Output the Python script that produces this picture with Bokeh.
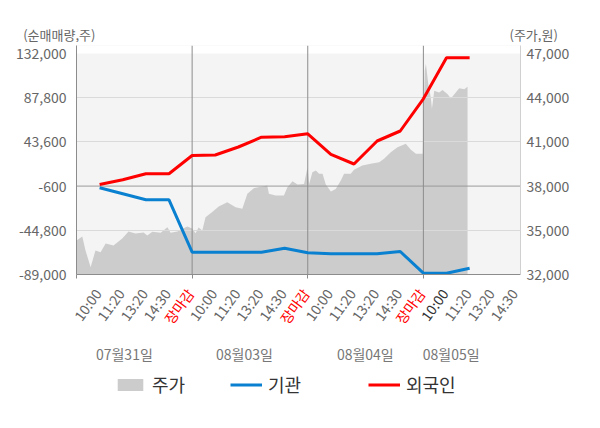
from bokeh.plotting import figure
from bokeh.layouts import column
from bokeh.models import (Range1d, LinearAxis, FixedTicker, Span, BoxAnnotation,
                          Label, Legend, LegendItem, NumeralTickFormatter)
from bokeh.embed import file_html
from bokeh.resources import INLINE

FONT = "Noto Sans CJK KR"

# ---------------- data ----------------
times = ["10:00", "11:20", "13:20", "14:30", "장마감"]
dates = ["07월31일", "08월03일", "08월04일", "08월05일"]
slots = list(range(1, 18))   # 5 time slots per day, last day only up to 11:20
foreign = [1000, 5700, 11700, 11700, 30000, 30500, 38500, 48300, 48800, 51700,
           31200, 21500, 44500, 54500, 86700, 127700, 127700]
inst = [-2300, -8300, -14300, -14300, -66700, -66700, -66700, -66700, -62700, -67300,
        -68300, -68300, -68300, -66000, -87700, -87700, -82700]
price_x = [0.00, 0.25, 0.39, 0.61, 0.82, 1.04, 1.26, 1.60, 1.98, 2.25, 2.55, 2.90, 3.06,
           3.28, 3.64, 3.93, 4.07, 4.36, 4.79,
           5.00, 5.15, 5.28, 5.44, 5.58, 5.87, 6.15, 6.52, 6.88, 7.17, 7.39, 7.68, 8.04,
           8.25, 8.32, 8.61, 8.97, 9.12, 9.34, 9.56, 9.84,
           9.99, 10.06, 10.20, 10.35, 10.49, 10.64, 10.78, 11.00, 11.21, 11.43, 11.57,
           11.86, 12.00, 12.36, 12.72, 13.09, 13.30, 13.59, 13.88, 14.24, 14.46, 14.68, 14.97,
           15.06, 15.11, 15.21, 15.32, 15.37, 15.47, 15.68, 15.83, 16.05, 16.19, 16.40,
           16.55, 16.77, 16.91]
price = [34300, 34580, 33630, 32500, 33630, 33510, 34100, 33970, 34440, 34920, 34780, 34850, 34650,
         34900, 34830, 35210, 34830, 34920, 35260,
         35120, 34800, 35190, 34990, 35890, 36250, 36620, 36910, 36570, 36460, 37480, 37870, 37970,
         38040, 37480, 37360, 37360, 37920, 38330, 38110, 38150,
         39280, 38150, 38940, 39060, 38830, 38830, 38110, 37630, 37810, 38380, 38830,
         38830, 39110, 39400, 39510, 39620, 39850, 40300, 40640, 40870, 40460, 40190, 40190,
         45850, 46300, 44940, 44030, 43250, 44470, 44350, 44520, 44240, 43940, 44350,
         44640, 44580, 44740]
left_ticks = [132000, 87800, 43600, -600, -44800, -89000]
right_ticks = [32000, 35000, 38000, 41000, 44000, 47000]
date_pos = [2.07, 7.26, 12.49, 16.2]

# ---------------- layout constants (px) ----------------
W = 584
HEAD_H = 42          # header strip with the two axis titles
MAIN_TOP = 3
FRAME_L, FRAME_R = 76, 520
FRAME_H = 229
MAIN_BOTTOM = 10
FOOT_H = 412 - HEAD_H - MAIN_TOP - FRAME_H - MAIN_BOTTOM
X_END = 19.2
UNIT = (FRAME_R - FRAME_L) / X_END
Y_LO, Y_HI, Y_TOP = -89000, 132000, 140000
P_LO, P_HI = 32000, 47000
p_top = P_LO + (Y_TOP - Y_LO) * (P_HI - P_LO) / (Y_HI - Y_LO)


def blank(height, x_range, y_range):
    f = figure(width=W, height=height, output_backend="svg", toolbar_location=None,
               x_range=x_range, y_range=y_range, x_axis_type=None, y_axis_type=None,
               min_border=0, frame_align=False)
    f.grid.visible = False
    f.outline_line_color = None
    f.background_fill_color = "white"
    f.border_fill_color = "white"
    return f


# ---------------- header ----------------
head = blank(HEAD_H, Range1d(0, W), Range1d(HEAD_H, 0))
head.add_layout(Label(x=22.7, y=33.5, text="(순매매량,주)", text_align="left",
                      text_baseline="middle", text_font=FONT, text_font_size="13px",
                      text_color="#666666"))
head.add_layout(Label(x=509, y=33.5, text="(주가,원)", text_align="left",
                      text_baseline="middle", text_font=FONT, text_font_size="13px",
                      text_color="#666666"))

# ---------------- main chart ----------------
p = figure(width=W, height=MAIN_TOP + FRAME_H + MAIN_BOTTOM, output_backend="svg",
           toolbar_location=None, frame_align=False,
           x_range=Range1d(0, X_END), y_range=Range1d(Y_LO, Y_TOP),
           min_border_left=FRAME_L, min_border_right=W - FRAME_R,
           min_border_top=MAIN_TOP, min_border_bottom=MAIN_BOTTOM)
p.extra_y_ranges = {"price": Range1d(P_LO, p_top)}
p.background_fill_color = "#f4f4f4"
p.border_fill_color = "white"
p.outline_line_color = None

ya = p.yaxis[0]
ya.ticker = FixedTicker(ticks=left_ticks)
ya.formatter = NumeralTickFormatter(format="0,0")
ya.axis_line_color = "#8c8c8c"
ya.major_tick_out = 0
ya.major_tick_in = 0
ya.minor_tick_line_color = None
ya.major_label_standoff = 10
ya.major_label_text_font = FONT
ya.major_label_text_font_size = "14px"
ya.major_label_text_color = "#666666"

ra = LinearAxis(y_range_name="price", ticker=FixedTicker(ticks=right_ticks),
                formatter=NumeralTickFormatter(format="0,0"))
ra.axis_line_color = "#d0d0d0"
ra.major_tick_out = 0
ra.major_tick_in = 0
ra.minor_tick_line_color = None
ra.major_label_standoff = 6
ra.major_label_text_font = FONT
ra.major_label_text_font_size = "14px"
ra.major_label_text_color = "#666666"
p.add_layout(ra, "right")

xa = p.xaxis[0]
xa.ticker = FixedTicker(ticks=[0, 5, 10, 15])
xa.major_label_overrides = {0: "", 5: "", 10: "", 15: ""}
xa.major_label_text_font_size = "0px"
xa.major_label_standoff = 0
xa.axis_line_color = "#8c8c8c"
xa.major_tick_line_color = "#8c8c8c"
xa.major_tick_out = 4
xa.major_tick_in = 0
xa.minor_tick_line_color = None

p.xgrid.visible = False
p.ygrid.ticker = FixedTicker(ticks=[87800, 43600, -44800])
p.ygrid.grid_line_color = "#dadada"

p.add_layout(BoxAnnotation(bottom=Y_HI, fill_color="white", fill_alpha=1,
                           line_color=None, level="underlay"))
p.add_layout(Span(location=-600, dimension="width", line_color="#9a9a9a",
                  line_width=1, level="underlay"))
for d in range(1, len(dates)):
    p.add_layout(Span(location=d * len(times), dimension="height", line_color="#8c8c8c",
                      line_width=1, level="underlay"))

p.varea(x=price_x, y1=P_LO, y2=price, y_range_name="price",
        fill_color="#cccccc", level="image")
p.line(slots, inst, line_color="#0a80d0", line_width=3)
p.line(slots, foreign, line_color="#ff0000", line_width=3)

# ---------------- footer (tick labels, dates, legend) ----------------
top_y = HEAD_H + MAIN_TOP + FRAME_H + MAIN_BOTTOM
foot = blank(FOOT_H, Range1d(-FRAME_L / UNIT, (W - FRAME_L) / UNIT),
             Range1d(top_y + FOOT_H, top_y))

for d, day in enumerate(dates):
    for k, t in enumerate(times):
        s = d * len(times) + k + 1
        if s > X_END:
            continue
        if t == "장마감":
            col = "#ff0000"
        elif d == len(dates) - 1 and k == 0:
            col = "#333333"
        else:
            col = "#666666"
        foot.add_layout(Label(x=s, y=290, x_offset=-2, text=t,
                              angle=54, angle_units="deg", text_align="right",
                              text_baseline="middle", text_font=FONT,
                              text_font_size="14px", text_color=col))

for pos, day in zip(date_pos, dates):
    foot.add_layout(Label(x=pos, y=353, text=day, text_align="center",
                          text_baseline="middle", text_font=FONT, text_font_size="14px",
                          text_color="#777777"))

# legend: same series re-drawn here (they fall outside this strip, only swatches show)
l_price = foot.varea(x=price_x, y1=P_LO, y2=price, fill_color="#cccccc")
l_inst = foot.line(slots, inst, line_color="#0a80d0", line_width=3)
l_for = foot.line(slots, foreign, line_color="#ff0000", line_width=3)
for name, rend, vx in [("주가", l_price, 114), ("기관", l_inst, 230), ("외국인", l_for, 368)]:
    lg = Legend(items=[LegendItem(label=name, renderers=[rend])], location=(vx, 15),
                orientation="horizontal", padding=0, margin=0, border_line_color=None,
                background_fill_alpha=0, glyph_width=32, glyph_height=15,
                label_height=15, label_standoff=6, label_text_font=FONT,
                label_text_font_size="18px", label_text_color="#333333")
    foot.add_layout(lg)

layout = column(head, p, foot, spacing=0)
open("out.html", "w").write(file_html(layout, INLINE))
